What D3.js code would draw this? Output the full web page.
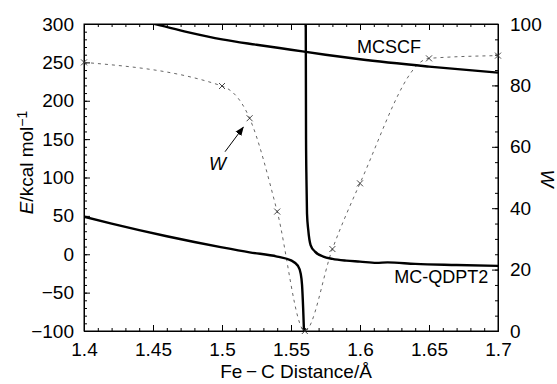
<!DOCTYPE html>
<html>
<head>
<meta charset="utf-8">
<script src="https://cdn.jsdelivr.net/npm/d3@7"></script>
<style>
  body { margin: 0; background: #fff; }
  svg { display: block; font-family: "Liberation Sans", Arial, sans-serif; }
  .axis path, .axis line { stroke: #000; }
  .axis text { font-size: 19px; fill: #000; }
</style>
</head>
<body>
<script>
const width = 557;
const height = 384;

const margin = {
    left: 84,
    right: 59,
    top: 24,
    bottom: 53
};

// MCSCF energy (kcal/mol)
const mcscfX = [1.44, 1.45, 1.475, 1.5, 1.525, 1.55, 1.575, 1.6, 1.65, 1.7];
const mcscfE = [304.5, 300.5, 289.5, 280, 273, 266.5, 260, 254, 244.5, 236.6];

// MC-QDPT2 energy, branch left of the crossing
const qdptLeftX = [1.40, 1.42, 1.44, 1.46, 1.48, 1.50, 1.52, 1.54, 1.55, 1.555, 1.557, 1.558, 1.5588, 1.5594];
const qdptLeftE = [49, 40, 31.5, 23.5, 16, 9, 2.5, -3, -8, -15, -25, -40, -70, -100];

// MC-QDPT2 energy, branch right of the crossing
const qdptRightX = [1.5607, 1.5609, 1.5612, 1.5616, 1.5625, 1.5642, 1.5674, 1.5734, 1.58, 1.59, 1.60, 1.612, 1.62, 1.64, 1.67, 1.70];
const qdptRightE = [300, 150, 97, 53, 31.7, 12, 3.4, -3.1, -6, -8.3, -9.6, -11.3, -10.6, -12.6, -14, -15.2];

// weight W (right axis)
const wX = [1.4, 1.5, 1.52, 1.54, 1.56, 1.58, 1.6, 1.65, 1.7];
const wVal = [87.5, 79.8, 69.3, 38.9, 0, 26.7, 48.1, 88.8, 89.7];

const xTicks = [1.4, 1.45, 1.5, 1.55, 1.6, 1.65, 1.7];
const eTicks = [-100, -50, 0, 50, 100, 150, 200, 250, 300];
const wTicks = [0, 20, 40, 60, 80, 100];

let svg = d3.select("body").append("svg")
    .attr("width", width)
    .attr("height", height);

let xScale = d3.scaleLinear()
    .domain([1.4, 1.7])
    .range([margin.left, width - margin.right]);

let yScale = d3.scaleLinear()
    .domain([-100, 300])
    .range([height - margin.bottom, margin.top]);

let wScale = d3.scaleLinear()
    .domain([0, 100])
    .range([height - margin.bottom, margin.top]);

let xMinor = d3.range(140, 171).map(d => d / 100);
let eMinor = d3.range(-100, 301, 10);
let wMinor = d3.range(0, 101, 5);

// minor ticks (inward)
svg.append("g").attr("class", "axis")
    .attr("transform", `translate(0,${height - margin.bottom})`)
    .call(d3.axisBottom(xScale).tickValues(xMinor).tickSize(-3).tickSizeOuter(0).tickFormat(""));
svg.append("g").attr("class", "axis")
    .attr("transform", `translate(0,${margin.top})`)
    .call(d3.axisTop(xScale).tickValues(xMinor).tickSize(-3).tickSizeOuter(0).tickFormat(""));
svg.append("g").attr("class", "axis")
    .attr("transform", `translate(${margin.left},0)`)
    .call(d3.axisLeft(yScale).tickValues(eMinor).tickSize(-3).tickSizeOuter(0).tickFormat(""));
svg.append("g").attr("class", "axis")
    .attr("transform", `translate(${width - margin.right},0)`)
    .call(d3.axisRight(wScale).tickValues(wMinor).tickSize(-3).tickSizeOuter(0).tickFormat(""));

// major ticks with labels
let xAxis = svg.append("g").attr("class", "axis")
    .attr("transform", `translate(0,${height - margin.bottom})`)
    .call(d3.axisBottom(xScale).tickValues(xTicks).tickSize(-6).tickSizeOuter(0)
        .tickPadding(12).tickFormat(d3.format("")));
svg.append("g").attr("class", "axis")
    .attr("transform", `translate(0,${margin.top})`)
    .call(d3.axisTop(xScale).tickValues(xTicks).tickSize(-6).tickSizeOuter(0).tickFormat(""));
svg.append("g").attr("class", "axis")
    .attr("transform", `translate(${margin.left},0)`)
    .call(d3.axisLeft(yScale).tickValues(eTicks).tickSize(-6).tickSizeOuter(0).tickPadding(10));
svg.append("g").attr("class", "axis")
    .attr("transform", `translate(${width - margin.right},0)`)
    .call(d3.axisRight(wScale).tickValues(wTicks).tickSize(-6).tickSizeOuter(0).tickPadding(12));

xAxis.selectAll("text").attr("dy", "0.68em");

// frame
svg.append("rect")
    .attr("x", margin.left)
    .attr("y", margin.top)
    .attr("width", width - margin.left - margin.right)
    .attr("height", height - margin.top - margin.bottom)
    .attr("fill", "none")
    .attr("stroke", "#000")
    .attr("stroke-width", 1);

svg.append("clipPath").attr("id", "plot-clip")
    .append("rect")
    .attr("x", margin.left)
    .attr("y", margin.top)
    .attr("width", width - margin.left - margin.right)
    .attr("height", height - margin.top - margin.bottom);

let plot = svg.append("g").attr("clip-path", "url(#plot-clip)");

// W curve (dashed) with cross markers
let wData = wX.map((x, i) => ({x: x, y: wVal[i]}));
let wLine = d3.line()
    .x(d => xScale(d.x))
    .y(d => wScale(d.y))
    .curve(d3.curveMonotoneX);

plot.append("path")
    .datum(wData)
    .attr("d", wLine)
    .attr("fill", "none")
    .attr("stroke", "#555")
    .attr("stroke-width", 0.9)
    .attr("stroke-dasharray", "3,4");

svg.selectAll(".cross")
    .data(wData)
    .enter()
    .append("path")
    .attr("class", "cross")
    .attr("transform", d => `translate(${xScale(d.x)},${wScale(d.y)})`)
    .attr("d", "M-3,-3L3,3M-3,3L3,-3")
    .attr("stroke", "#333")
    .attr("stroke-width", 0.9);

// energy curves
let eLine = d3.line()
    .x(d => xScale(d.x))
    .y(d => yScale(d.y))
    .curve(d3.curveMonotoneX);

let curves = [
    mcscfX.map((x, i) => ({x: x, y: mcscfE[i]})),
    qdptLeftX.map((x, i) => ({x: x, y: qdptLeftE[i]})),
    qdptRightX.map((x, i) => ({x: x, y: qdptRightE[i]}))
];

plot.selectAll(".energy")
    .data(curves)
    .enter()
    .append("path")
    .attr("class", "energy")
    .attr("d", eLine)
    .attr("fill", "none")
    .attr("stroke", "#000")
    .attr("stroke-width", 2.4);

// curve labels
svg.append("text")
    .attr("x", xScale(1.621))
    .attr("y", yScale(261.8))
    .attr("text-anchor", "middle")
    .style("font-size", "18px")
    .text("MCSCF");

svg.append("text")
    .attr("x", xScale(1.693))
    .attr("y", yScale(-37.8))
    .attr("text-anchor", "end")
    .style("font-size", "18px")
    .text("MC-QDPT2");

// W annotation with arrow
svg.append("defs").append("marker")
    .attr("id", "arrow")
    .attr("viewBox", "0 0 10 10")
    .attr("refX", 9)
    .attr("refY", 5)
    .attr("markerWidth", 9)
    .attr("markerHeight", 9)
    .attr("markerUnits", "userSpaceOnUse")
    .attr("orient", "auto")
    .append("path")
    .attr("d", "M0,1L10,5L0,9z")
    .attr("fill", "#000");

svg.append("line")
    .attr("x1", xScale(1.5022))
    .attr("y1", wScale(58.4))
    .attr("x2", xScale(1.5154))
    .attr("y2", wScale(66.35))
    .attr("stroke", "#000")
    .attr("stroke-width", 1)
    .attr("marker-end", "url(#arrow)");

svg.append("text")
    .attr("x", xScale(1.4967))
    .attr("y", wScale(52.4))
    .attr("text-anchor", "middle")
    .style("font-size", "18px")
    .style("font-style", "italic")
    .text("W");

// axis titles
svg.append("text")
    .attr("x", 296)
    .attr("y", 378)
    .attr("text-anchor", "middle")
    .style("font-size", "19px")
    .text("Fe\u2009\u2212\u2009C Distance/Å");

let yLabel = svg.append("text")
    .attr("text-anchor", "middle")
    .attr("transform", `translate(33,${(margin.top + height - margin.bottom) / 2 - 15}) rotate(-90)`)
    .style("font-size", "19px");
yLabel.append("tspan").style("font-style", "italic").text("E");
yLabel.append("tspan").text("/kcal mol");
yLabel.append("tspan").attr("dy", "-0.45em").style("font-size", "14px").text("\u22121");

svg.append("text")
    .attr("text-anchor", "middle")
    .attr("transform", `translate(541,${(margin.top + height - margin.bottom) / 2 + 1}) rotate(90)`)
    .style("font-size", "19px")
    .style("font-style", "italic")
    .text("W");
</script>
</body>
</html>
